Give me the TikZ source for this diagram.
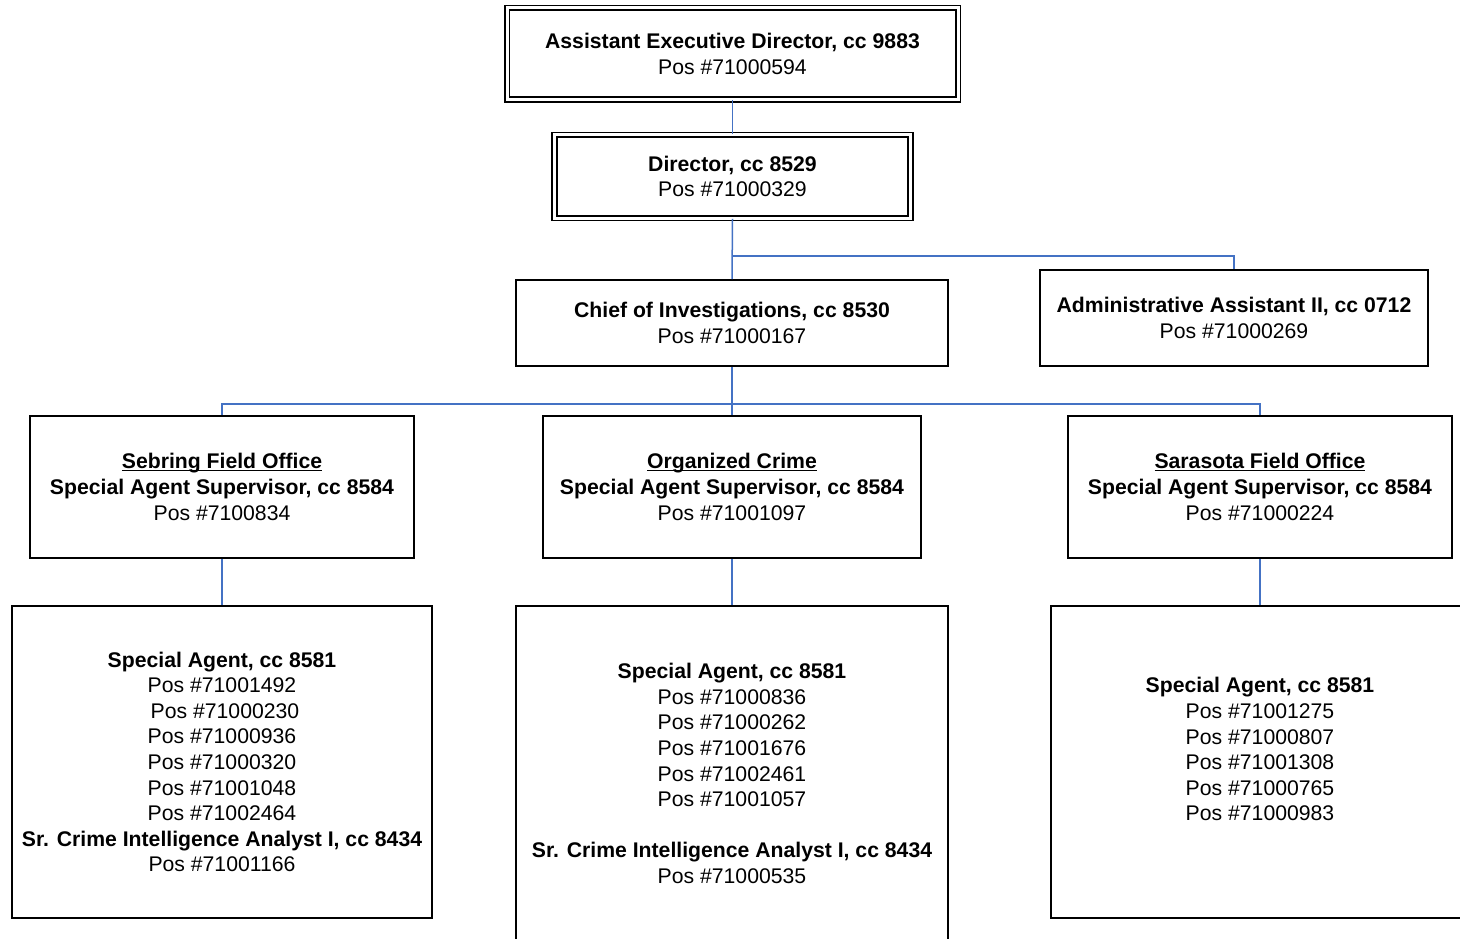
\documentclass[tikz,border=0pt]{standalone}
\usepackage{fontspec}
\setmainfont{Liberation Sans}
\newcommand\hdrline[1]{\setbox0\hbox{#1}\rlap{\rule[-2.4pt]{\wd0}{1.4pt}}\box0}
\definecolor{linkblue}{RGB}{68,114,196}
\begin{document}
\begin{tikzpicture}[x=1pt,y=-1pt,
  every node/.style={font=\fontsize{21.2}{25.6}\selectfont, align=center, inner sep=0pt},
  box/.style={draw=black, line width=1.6pt, rectangle},
  dbox/.style={draw=black, line width=1.6pt, double, double distance=3pt, rectangle},
  conn/.style={draw=linkblue, line width=1.5pt}]
\clip (0,0) rectangle (1460,939);
\fill[white] (0,0) rectangle (1460,939);

% top of the chart
\node[dbox, minimum width=451, minimum height=91.5] (aed) at (732.5,53.75)
  {\textbf{Assistant Executive Director, cc 9883}\\Pos \#71000594};
\node[dbox, minimum width=356, minimum height=83] (dir) at (732.5,176.5)
  {\textbf{Director, cc 8529}\\Pos \#71000329};

% second level
\node[box, minimum width=432, minimum height=86] (chief) at (732,323)
  {\textbf{Chief of Investigations, cc 8530}\\Pos \#71000167};
\node[box, minimum width=388, minimum height=96] (admin) at (1234,318)
  {\textbf{Administrative Assistant II, cc 0712}\\Pos \#71000269};

% supervisors
\node[box, minimum width=384, minimum height=142] (seb) at (222,487)
  {\textbf{\hdrline{Sebring Field Office}}\\\textbf{Special Agent Supervisor, cc 8584}\\Pos \#7100834};
\node[box, minimum width=378, minimum height=142] (org) at (732,487)
  {\textbf{\hdrline{Organized Crime}}\\\textbf{Special Agent Supervisor, cc 8584}\\Pos \#71001097};
\node[box, minimum width=384, minimum height=142] (sar) at (1260,487)
  {\textbf{\hdrline{Sarasota Field Office}}\\\textbf{Special Agent Supervisor, cc 8584}\\Pos \#71000224};

% agents
\node[box, minimum width=420, minimum height=312] (sebA) at (222,762)
  {\textbf{Special Agent, cc 8581}\\Pos \#71001492\\\hspace*{6pt}Pos \#71000230\\Pos \#71000936\\Pos \#71000320\\Pos \#71001048\\Pos \#71002464\\\textbf{Sr. Crime Intelligence Analyst I, cc 8434}\\Pos \#71001166};
\node[box, minimum width=432, minimum height=335] (orgA) at (732,773.5)
  {\textbf{Special Agent, cc 8581}\\Pos \#71000836\\Pos \#71000262\\Pos \#71001676\\Pos \#71002461\\Pos \#71001057\\\mbox{}\\\textbf{Sr. Crime Intelligence Analyst I, cc 8434}\\Pos \#71000535};
\node[box, minimum width=418, minimum height=312] (sarA) at (1260,762)
  {\textbf{Special Agent, cc 8581}\\Pos \#71001275\\Pos \#71000807\\Pos \#71001308\\Pos \#71000765\\Pos \#71000983\\\mbox{}};

% junctions
\coordinate (j1) at (732.5,256);
\coordinate (j2) at (732,404);

% connectors
\draw[conn] (aed.south) -- (dir.north);
\draw[conn] (dir.south) -- (chief.north);
\draw[conn] (j1) -| (admin.north);
\draw[conn] (chief.south) -- (org.north);
\draw[conn] (seb.north) |- (j2) -| (sar.north);
\draw[conn] (seb.south) -- (sebA.north);
\draw[conn] (org.south) -- (orgA.north);
\draw[conn] (sar.south) -- (sarA.north);
\end{tikzpicture}
\end{document}
